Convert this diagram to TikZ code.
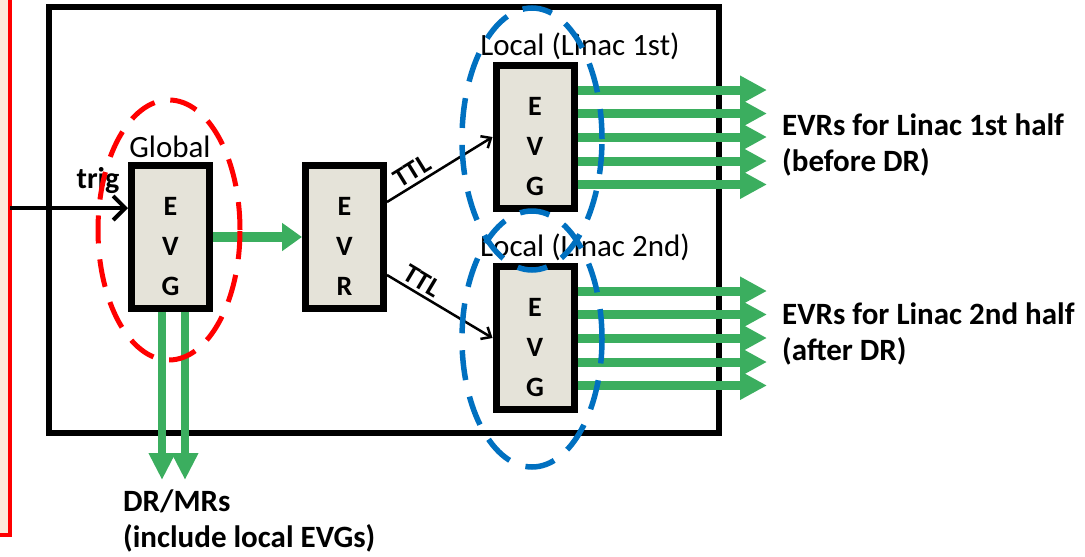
\documentclass[tikz,border=0pt]{standalone}
\usepackage{fontspec}
\setmainfont{Carlito}
\usetikzlibrary{arrows.meta}
\definecolor{evgfill}{RGB}{229,227,217}
\definecolor{linkgreen}{RGB}{59,174,95}
\definecolor{ringblue}{RGB}{0,112,192}
\definecolor{ringred}{RGB}{255,0,0}
\definecolor{panelfill}{RGB}{253,234,218}

\begin{document}
\begin{tikzpicture}[x=1pt, y=-1pt,
  unit/.style={draw=black, fill=evgfill, line width=7pt, minimum width=78pt,
    minimum height=143pt, inner sep=0pt, align=center, text height=117pt,
    font=\fontsize{28}{40}\selectfont\bfseries},
  tag/.style={inner sep=0pt, font=\fontsize{31}{34}\selectfont},
  note/.style={inner sep=0pt, align=left, font=\fontsize{31}{36}\selectfont\bfseries},
  ttltag/.style={inner sep=3pt, font=\fontsize{27}{30}\selectfont\bfseries},
  grnarrow/.style={draw=linkgreen, line width=9pt, -{Triangle[length=27pt,width=27pt]}},
  grndown/.style={draw=linkgreen, line width=8pt, -{Triangle[length=27pt,width=25pt]}},
  trigarrow/.style={draw=black, line width=4pt, -{Straight Barb[length=12pt,width=24pt]}},
  ttl/.style={draw=black, line width=2.5pt, -{Straight Barb[length=8pt,width=14pt]}},
  redring/.style={draw=ringred, line width=5pt, dash pattern=on 28pt off 16pt},
  bluering/.style={draw=ringblue, line width=5.5pt, dash pattern=on 30pt off 17pt}]
\useasboundingbox (0,0) rectangle (1085,557);
% left panel and crate
\filldraw[draw=ringred, fill=panelfill, line width=4pt] (-20,-20) rectangle (10,535);
\draw[line width=6pt] (49,7) rectangle (719,433);
\coordinate (trigin) at (10,208);
\coordinate (fanend) at (767,0);
\coordinate (drend) at (0,480);
% modules
\node[unit] (glob) at (170.5,237) {E\\V\\G};
\node[unit] (evr) at (344.5,237) {E\\V\\R};
\node[unit] (loc1) at (535,137) {E\\V\\G};
\node[unit] (loc2) at (535,338) {E\\V\\G};
\node[tag] (globtag) at (170,147) {Global};
\node[tag] (loc1tag) at (580,46) {Local (Linac 1st)};
\node[tag] (loc2tag) at (585,247) {Local (Linac 2nd)};
\node[tag, font=\fontsize{30}{32}\selectfont\bfseries] (trigtag) at (98,181) {trig};
% links
\draw[trigarrow] (trigin) -- (trigin -| glob.west);
\draw[grnarrow, line width=10pt, -{Triangle[length=20pt,width=27pt]}] (glob.east) -- (evr.west);
\draw[ttl] (evr.east) ++(0,-35) coordinate (t1) -- node[pos=0.3, sloped, above, ttltag] (ttl1) {TTL} (loc1.west);
\draw[ttl] (evr.east) ++(0,38) coordinate (t2) -- node[pos=0.27, sloped, above, ttltag] (ttl2) {TTL} (loc2.west);
\foreach \dy in {-47,-23.5,0,24,47.5} {
  \draw[grnarrow] (loc1.east) ++(0,\dy) coordinate (s) -- (s -| fanend);
  \draw[grnarrow] (loc2.east) ++(0,\dy) coordinate (s) -- (s -| fanend);
}
\foreach \dx in {-8.5,14.5}
  \draw[grndown] (glob.south) ++(\dx,0) coordinate (s) -- (s |- drend);
% outputs
\node[note, anchor=west] (evr1st) at (782,145) {EVRs for Linac 1st half\\(before DR)};
\node[note, anchor=west] (evr2nd) at (782,334) {EVRs for Linac 2nd half\\(after DR)};
\node[note, anchor=west] (drmr) at (123,521) {DR/MRs\\(include local EVGs)};
% groups
\draw[redring] (169,230) ellipse [x radius=71pt, y radius=130pt];
\draw[bluering] (532,139) ellipse [x radius=70pt, y radius=131pt];
\draw[bluering] (532,339) ellipse [x radius=70pt, y radius=128pt];
\end{tikzpicture}
\end{document}
